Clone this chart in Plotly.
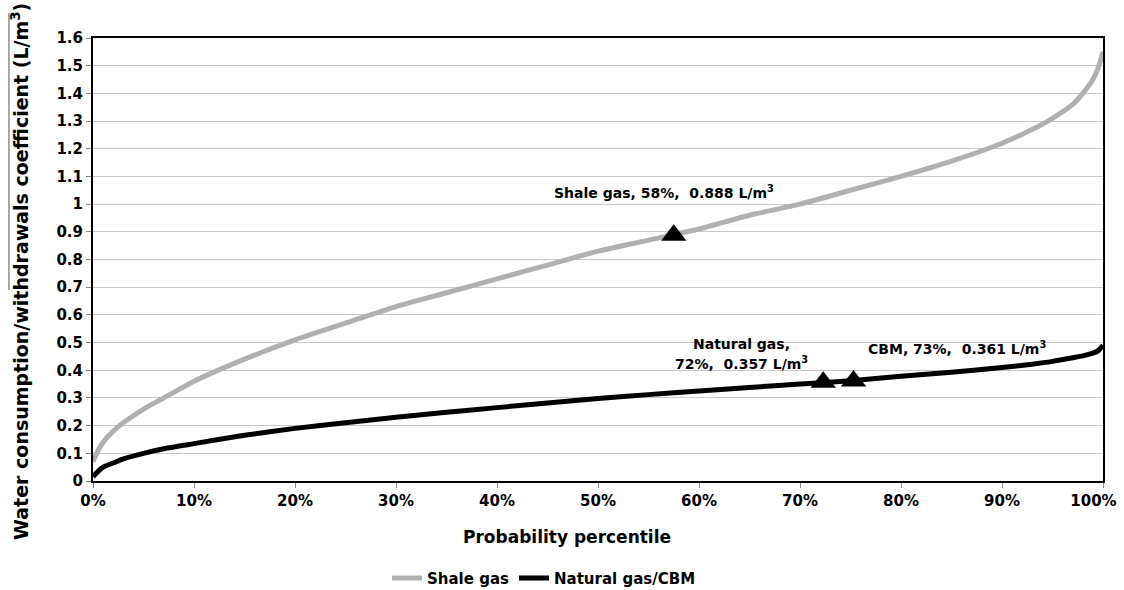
import plotly.graph_objects as go

# Percentile (x, %) and coefficient values (L/m3)
percentile = [0, 0.5, 1, 2, 3, 5, 7.5, 10, 15, 20, 25, 30, 35, 40, 45, 50, 55, 60,
              65, 70, 75, 80, 85, 90, 93, 95, 97, 98, 99, 99.5, 100]
shale_gas = [0.07, 0.11, 0.14, 0.18, 0.21, 0.26, 0.31, 0.36, 0.44, 0.51, 0.57, 0.63,
             0.68, 0.73, 0.78, 0.83, 0.87, 0.91, 0.96, 1.00, 1.05, 1.10, 1.155, 1.22,
             1.27, 1.31, 1.36, 1.40, 1.45, 1.49, 1.55]
natural_gas_cbm = [0.015, 0.035, 0.05, 0.065, 0.08, 0.10, 0.12, 0.135, 0.165, 0.19, 0.21,
                   0.23, 0.248, 0.265, 0.282, 0.298, 0.312, 0.325, 0.338, 0.35, 0.362,
                   0.378, 0.393, 0.41, 0.422, 0.432, 0.445, 0.452, 0.462, 0.47, 0.49]

# Highlighted points
point_x = [57.5, 72.3, 75.3]
point_y = [0.888, 0.357, 0.361]

x_ticks = [0, 10, 20, 30, 40, 50, 60, 70, 80, 90, 100]
x_tick_labels = [f"{t}%" for t in x_ticks]

FONT = "DejaVu Sans, Liberation Sans, Arial, sans-serif"

fig = go.Figure()
fig.add_trace(go.Scatter(x=percentile, y=shale_gas, mode="lines", name="<b>Shale gas</b>",
                         line=dict(color="#b0b0b0", width=5, shape="spline", smoothing=0.6)))
fig.add_trace(go.Scatter(x=percentile, y=natural_gas_cbm, mode="lines", name="<b>Natural gas/CBM</b>",
                         line=dict(color="#000000", width=5, shape="spline", smoothing=0.6)))
fig.add_trace(go.Scatter(x=point_x, y=point_y, mode="markers", showlegend=False,
                         marker=dict(symbol="triangle-up", size=22, color="#000000")))

annos = [
    dict(x=56.5, y=1.045, text="<b>Shale gas, 58%,  0.888 L/m<sup>3</sup></b>"),
    dict(x=64.2, y=0.495, text="<b>Natural gas,</b>"),
    dict(x=64.2, y=0.425, text="<b>72%,  0.357 L/m<sup>3</sup></b>"),
    dict(x=85.5, y=0.48, text="<b>CBM, 73%,  0.361 L/m<sup>3</sup></b>"),
]
for a in annos:
    fig.add_annotation(xref="x", yref="y", showarrow=False, yanchor="middle",
                       font=dict(family=FONT, size=14, color="#000000"), **a)

# axis titles (placed as in the reference)
fig.add_annotation(xref="paper", yref="paper", x=0.469, y=-0.126, showarrow=False,
                   xanchor="center", yanchor="middle",
                   text="<b>Probability percentile</b>",
                   font=dict(family=FONT, size=17, color="#000000"))
fig.add_annotation(xref="paper", yref="paper", x=-0.0723, y=0.474, showarrow=False,
                   xanchor="center", yanchor="middle", textangle=-90,
                   text="<b>Water consumption/withdrawals coefficient (L/m<sup>3</sup>)</b>",
                   font=dict(family=FONT, size=19, color="#000000"))

# thin scan line beside the y-axis title, as in the reference
fig.add_shape(type="line", xref="paper", yref="paper", x0=-0.0832, x1=-0.0832,
              y0=0.431, y1=1.056, line=dict(color="#555555", width=1))

axis_common = dict(showline=True, linecolor="#000000", linewidth=2, mirror=True,
                   gridcolor="#c8c8c8", gridwidth=1, zeroline=False, automargin=False,
                   ticks="outside", tickcolor="#888888", ticklen=5,
                   ticklabeloverflow="allow",
                   tickfont=dict(family=FONT, size=15, color="#000000"))

# last label padded so it stays inside the picture, as in the reference
x_tick_text = [f"<b>{t}</b>" for t in x_tick_labels]
x_tick_text[-1] = x_tick_text[-1] + "\u00a0\u00a0\u00a0\u00a0"

fig.update_xaxes(range=[0, 100], tickvals=x_ticks, ticktext=x_tick_text,
                 showgrid=False, **axis_common)
fig.update_yaxes(range=[0, 1.6], dtick=0.1, tickprefix="<b>", ticksuffix="</b>",
                 **axis_common)

fig.update_layout(
    width=1124, height=590,
    margin=dict(l=93, r=21, t=38, b=109, autoexpand=False),
    plot_bgcolor="#ffffff", paper_bgcolor="#ffffff",
    font=dict(family=FONT, color="#000000"),
    legend=dict(orientation="h", x=0.484, xanchor="center", xref="container",
                y=0.02, yanchor="middle", yref="container",
                font=dict(family=FONT, size=15, color="#000000"), itemwidth=30,
                traceorder="normal"),
)

fig.write_html("out.html")
